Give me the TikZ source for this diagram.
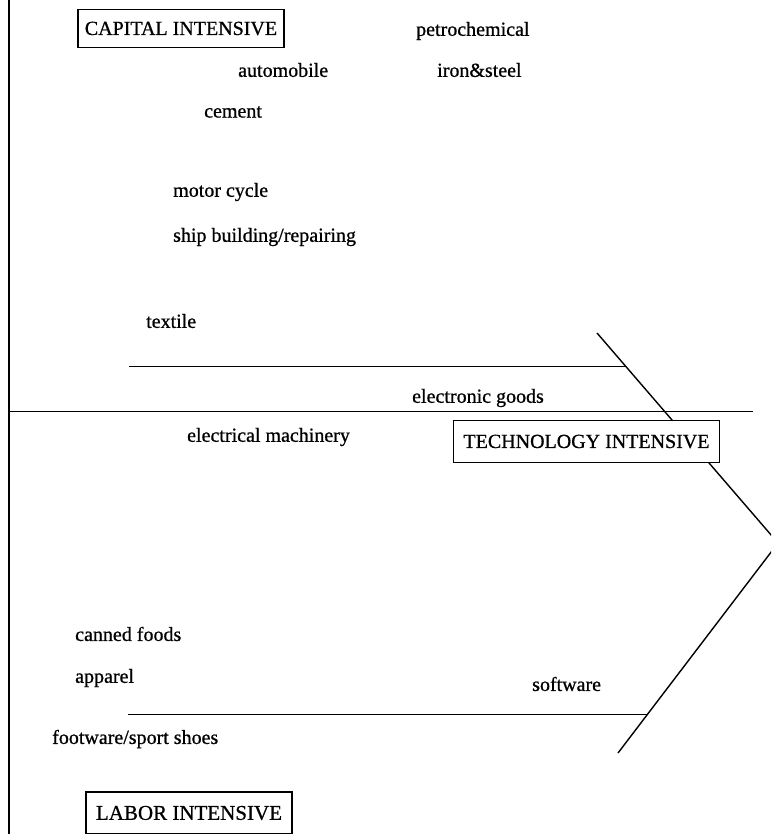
\documentclass[tikz,border=0pt]{standalone}
\usepackage{fontspec}
\setmainfont{Liberation Serif}[FakeBold=0.8]
\begin{document}
\begin{tikzpicture}[x=1pt,y=-1pt,
  lbl/.style={anchor=west,inner sep=0pt,font=\fontsize{20}{24}\selectfont},
  catbox/.style={draw,line width=1.3pt,fill=white,font=\fontsize{20}{24}\selectfont},
  thinline/.style={line width=0.9pt},
  diag/.style={line width=1.4pt}]
\useasboundingbox (0,0) rectangle (771,834);
\clip (0,0) rectangle (771,834);
% axis
\coordinate (vtop) at (9,0);
\coordinate (vbot) at (9,834);
\draw[line width=2.5pt] (vtop) -- (vbot);
% diagonal
\coordinate (dtop) at (597,333);
\coordinate (apex) at (778,543);
\coordinate (dbot) at (618,753);
\draw[diag] (dtop) -- (apex) -- (dbot);
% horizontal lines
\coordinate (u1) at (129,366); \coordinate (u2) at (625,366);
\coordinate (m1) at (9,411);   \coordinate (m2) at (753,411);
\coordinate (l1) at (128,714); \coordinate (l2) at (648,714);
\draw[thinline] (u1) -- (u2);
\draw[thinline] (m1) -- (m2);
\draw[thinline] (l1) -- (l2);
% boxes
\node[catbox,inner xsep=7pt,inner ysep=12pt] (cap) at (181,28.5) {CAPITAL INTENSIVE};
\node[catbox,inner xsep=10pt,inner ysep=14.5pt] (tech) at (586.5,441.5) {TECHNOLOGY INTENSIVE};
\node[catbox,inner xsep=10pt,inner ysep=14pt,font=\fontsize{21}{25}\selectfont] (lab) at (189,813) {LABOR INTENSIVE};
% labels
\node[lbl] (petro) at (416,31) {petrochemical};
\node[lbl] (auto) at (238,70) {automobile};
\node[lbl] (iron) at (437,70) {iron\&steel};
\node[lbl] (cement) at (204,112) {cement};
\node[lbl] (motor) at (173,192) {motor cycle};
\node[lbl] (ship) at (173,237) {ship building/repairing};
\node[lbl] (textile) at (146,321) {textile};
\node[lbl] (egoods) at (412,398) {electronic goods};
\node[lbl] (emach) at (187,437) {electrical machinery};
\node[lbl] (canned) at (75,634) {canned foods};
\node[lbl] (apparel) at (75,678) {apparel};
\node[lbl] (soft) at (532,684) {software};
\node[lbl] (foot) at (52,739) {footware/sport shoes};
\end{tikzpicture}
\end{document}
